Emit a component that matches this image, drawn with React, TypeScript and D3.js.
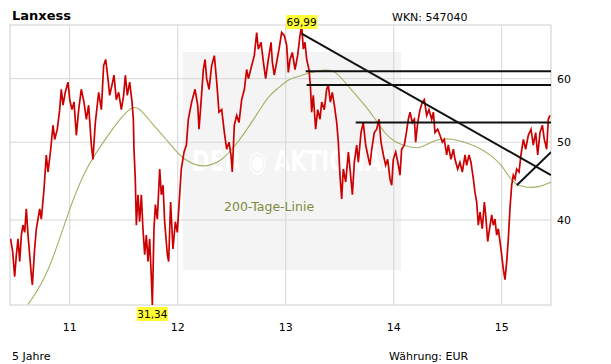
import React from "react";
import * as d3 from "d3";

// ---- data (decimal year, EUR) ----
const priceT = [2010.453,2010.472,2010.490,2010.506,2010.521,2010.537,2010.552,2010.567,2010.583,2010.598,2010.614,2010.629,2010.645,2010.654,2010.675,2010.691,2010.706,2010.722,2010.737,2010.762,2010.783,2010.799,2010.824,2010.845,2010.861,2010.885,2010.907,2010.922,2010.938,2010.959,2010.984,2011.000,2011.021,2011.040,2011.061,2011.083,2011.107,2011.132,2011.154,2011.175,2011.200,2011.215,2011.237,2011.255,2011.268,2011.293,2011.314,2011.333,2011.354,2011.370,2011.391,2011.410,2011.431,2011.453,2011.478,2011.499,2011.515,2011.533,2011.555,2011.577,2011.589,2011.595,2011.607,2011.617,2011.632,2011.647,2011.663,2011.678,2011.694,2011.709,2011.725,2011.740,2011.756,2011.765,2011.780,2011.793,2011.811,2011.833,2011.848,2011.864,2011.879,2011.904,2011.916,2011.934,2011.956,2011.978,2011.996,2012.018,2012.033,2012.058,2012.080,2012.098,2012.129,2012.160,2012.185,2012.197,2012.216,2012.237,2012.253,2012.268,2012.290,2012.314,2012.339,2012.361,2012.382,2012.407,2012.432,2012.453,2012.475,2012.493,2012.505,2012.524,2012.546,2012.567,2012.592,2012.617,2012.638,2012.654,2012.685,2012.709,2012.731,2012.746,2012.771,2012.793,2012.814,2012.839,2012.864,2012.876,2012.894,2012.916,2012.938,2012.962,2012.987,2013.009,2013.024,2013.040,2013.061,2013.086,2013.110,2013.132,2013.147,2013.163,2013.178,2013.194,2013.215,2013.228,2013.240,2013.255,2013.277,2013.296,2013.317,2013.333,2013.357,2013.379,2013.394,2013.413,2013.431,2013.450,2013.472,2013.487,2013.502,2013.518,2013.533,2013.555,2013.580,2013.598,2013.617,2013.635,2013.657,2013.672,2013.697,2013.718,2013.740,2013.759,2013.780,2013.796,2013.820,2013.842,2013.864,2013.882,2013.904,2013.925,2013.944,2013.965,2013.981,2013.996,2014.018,2014.043,2014.058,2014.073,2014.098,2014.117,2014.135,2014.151,2014.172,2014.191,2014.203,2014.222,2014.243,2014.265,2014.283,2014.305,2014.326,2014.351,2014.367,2014.382,2014.407,2014.428,2014.450,2014.468,2014.490,2014.505,2014.530,2014.552,2014.567,2014.592,2014.613,2014.635,2014.660,2014.675,2014.697,2014.715,2014.737,2014.752,2014.768,2014.783,2014.799,2014.820,2014.839,2014.851,2014.870,2014.882,2014.907,2014.922,2014.937,2014.953,2014.968,2014.984,2014.999,2015.015,2015.030,2015.046,2015.061,2015.076,2015.092,2015.107,2015.123,2015.138,2015.160,2015.178,2015.200,2015.221,2015.246,2015.271,2015.292,2015.314,2015.333,2015.354,2015.376,2015.394,2015.416,2015.431,2015.447];
const priceV = [37.9,36.5,34.0,36.2,37.9,35.5,38.3,39.4,38.6,41.3,38.3,36.2,34.1,33.2,36.8,39.0,40.1,41.3,40.1,43.7,48.2,45.9,49.0,52.5,50.4,51.9,54.9,58.2,55.6,57.7,59.4,56.5,54.9,56.1,51.0,54.9,58.2,56.1,53.4,55.6,49.6,47.6,52.9,55.6,57.7,54.9,62.3,63.4,60.0,57.2,58.9,60.6,56.5,57.7,54.9,57.2,60.6,57.2,59.4,56.1,53.4,49.0,45.0,39.4,43.0,39.8,43.0,39.0,36.2,38.3,35.5,37.9,33.8,31.34,39.0,41.8,40.1,46.3,43.0,44.2,39.8,36.2,35.5,42.1,36.8,39.8,38.6,43.0,46.3,48.6,49.6,53.4,56.1,58.2,55.6,51.9,56.1,61.6,63.4,60.0,58.2,62.3,64.1,59.4,54.5,54.9,51.4,49.0,50.0,48.2,45.9,52.5,54.0,52.9,56.5,58.2,61.6,60.0,62.3,64.1,68.5,65.3,66.6,62.9,60.0,63.4,66.6,62.9,60.6,62.9,65.3,68.5,67.9,66.0,61.1,63.4,64.7,61.6,64.1,67.9,69.99,65.3,66.6,63.4,61.6,58.9,54.5,57.2,51.9,54.9,53.4,56.1,54.9,58.2,58.9,56.1,57.7,55.6,52.9,50.0,45.5,42.5,46.3,44.6,48.6,45.9,43.0,47.2,49.6,47.2,51.4,52.9,49.6,48.2,46.8,49.0,51.4,51.9,53.4,50.0,48.2,46.8,47.6,45.0,44.2,47.6,48.6,46.8,45.5,49.0,49.6,51.4,53.4,54.5,52.9,53.4,50.0,52.9,54.9,56.1,56.5,54.0,54.9,53.4,54.5,51.4,51.9,51.0,50.0,50.4,48.2,49.6,47.6,49.0,47.6,46.3,47.2,45.9,48.2,46.8,48.2,47.2,45.0,43.3,42.1,39.4,40.9,39.0,42.1,40.6,37.6,38.6,40.6,39.4,40.1,38.3,39.0,37.6,36.2,34.7,33.7,35.5,37.9,41.3,44.2,45.5,45.0,46.3,45.9,48.2,50.4,49.0,51.0,51.9,49.6,51.4,48.2,51.4,52.5,50.4,49.0,53.4,54.0];

const maT = [2010.614,2010.799,2011.000,2011.139,2011.231,2011.354,2011.475,2011.586,2011.660,2011.753,2011.879,2011.972,2012.067,2012.190,2012.315,2012.407,2012.500,2012.623,2012.746,2012.839,2012.931,2013.024,2013.116,2013.240,2013.364,2013.456,2013.549,2013.641,2013.734,2013.827,2013.919,2014.012,2014.104,2014.228,2014.320,2014.413,2014.537,2014.660,2014.783,2014.907,2015.000,2015.061,2015.123,2015.216,2015.339,2015.456];
const maV = [31.4,34.1,41.5,46.0,48.2,51.0,53.7,55.6,54.9,52.9,50.7,48.9,47.5,46.6,46.8,47.5,48.9,51.4,54.5,57.1,58.4,59.9,60.4,61.1,61.6,61.4,59.4,57.4,55.6,53.5,51.2,50.0,49.5,49.0,49.8,50.5,50.5,50.0,49.3,48.1,46.8,45.4,44.3,43.9,43.9,44.6];

// trend lines: [t1, v1, t2, v2]
const trendDown = [2013.147, 68.3, 2015.456, 45.5];
const trendUp = [2015.139, 44.2, 2015.456, 48.6];
const levelValues = [61.3, 58.9, 52.9];
const levelStarts = [2013.185, 2013.194, 2013.648];

// watermark panel span (decimal years)
const panelSpan = [2012.049, 2014.067];

const xTickYears = [2011, 2012, 2013, 2014, 2015];
const xTickLabels = ["11", "12", "13", "14", "15"];
const yTicks = [40, 50, 60];

const maxPoint = { t: 2013.147, v: 69.99, label: "69,99" };
const minPoint = { t: 2011.765, v: 31.34, label: "31,34" };

const title = "Lanxess";
const wkn = "WKN: 547040";
const period = "5 Jahre";
const currency = "Währung: EUR";
const maLabel = "200-Tage-Linie";

export default function App() {
  const W = 611, H = 364;
  const L = 10, R = 551, T = 25, B = 305;
  const x = d3.scaleLinear().domain([2010.447, 2015.456]).range([L, R]);
  const y = d3.scaleLog().domain([31.34, 69.99]).range([B, T]);

  const priceLine = d3.line<number>()
    .x((_, i) => x(priceT[i]))
    .y((d) => y(d));
  const maLine = d3.line<number>()
    .x((_, i) => x(maT[i]))
    .y((d) => y(d))
    .curve(d3.curveBasis);

  const font = "'DejaVu Sans', Verdana, sans-serif";
  const grid = "#d6d6d6";
  const px0 = x(panelSpan[0]);
  const px1 = x(panelSpan[1]);

  return (
    <svg width={W} height={H} style={{ position: "absolute", left: 0, top: 0, background: "#fff" }}
      fontFamily={font}>
      <defs>
        <clipPath id="plot"><rect x={L} y={T} width={R - L} height={B - T} /></clipPath>
      </defs>
      <rect x={0} y={0} width={W} height={H} fill="#fff" />
      {/* watermark panel */}
      <rect x={px0} y={52} width={px1 - px0} height={218} fill="#f4f4f4" />
      <text x={px0 + 9} y={171} fontSize={29} fontWeight="bold" fill="#ffffff"
        textLength={px1 - px0 - 12} lengthAdjust="spacingAndGlyphs">DER ◉ AKTIONÄR</text>
      {/* grid */}
      {xTickYears.map((t) => (
        <line key={"gx" + t} x1={x(t)} x2={x(t)} y1={T} y2={B} stroke={grid} strokeWidth={1} />
      ))}
      {yTicks.map((v) => (
        <line key={"gy" + v} x1={L} x2={R} y1={y(v)} y2={y(v)} stroke={grid} strokeWidth={1} />
      ))}
      <rect x={L} y={T} width={R - L} height={B - T} fill="none" stroke="#cfcfcf" strokeWidth={1} />
      <text x={224} y={211} fontSize={12.5} fill="#7d8b3c">{maLabel}</text>
      <g clipPath="url(#plot)">
        <path d={maLine(maV) || ""} fill="none" stroke="#a3b063" strokeWidth={1.1} />
        <path d={priceLine(priceV) || ""} fill="none" stroke="#cc0000" strokeWidth={1.7} strokeLinejoin="miter" />
        {levelValues.map((v, i) => (
          <line key={"lv" + i} x1={x(levelStarts[i])} x2={R} y1={y(v)} y2={y(v)} stroke="#111" strokeWidth={2} />
        ))}
        <line x1={x(trendDown[0])} y1={y(trendDown[1])} x2={x(trendDown[2])} y2={y(trendDown[3])} stroke="#111" strokeWidth={2} />
        <line x1={x(trendUp[0])} y1={y(trendUp[1])} x2={x(trendUp[2])} y2={y(trendUp[3])} stroke="#111" strokeWidth={2} />
      </g>
      {/* max/min labels */}
      <line x1={x(maxPoint.t)} x2={x(maxPoint.t)} y1={29} y2={y(maxPoint.v)} stroke="#cc0000" strokeWidth={1} />
      <rect x={x(maxPoint.t) - 15.5} y={15} width={31} height={14} fill="#ffff33" />
      <text x={x(maxPoint.t)} y={26} fontSize={10.5} textAnchor="middle" fill="#000">{maxPoint.label}</text>
      <rect x={x(minPoint.t) - 15.5} y={307} width={31} height={14} fill="#ffff33" />
      <text x={x(minPoint.t)} y={318} fontSize={10.5} textAnchor="middle" fill="#000">{minPoint.label}</text>
      {/* axes labels */}
      {xTickYears.map((t, i) => (
        <text key={"xl" + t} x={x(t)} y={331} fontSize={11} textAnchor="middle" fill="#000">{xTickLabels[i]}</text>
      ))}
      {yTicks.map((v) => (
        <text key={"yl" + v} x={557} y={y(v) + 4} fontSize={11} fill="#000">{v}</text>
      ))}
      <text x={12} y={20} fontSize={13} fontWeight="bold" fill="#000">{title}</text>
      <text x={392} y={21} fontSize={11} fill="#000">{wkn}</text>
      <text x={12} y={360} fontSize={11} fill="#000">{period}</text>
      <text x={389} y={360} fontSize={11} fill="#000">{currency}</text>
    </svg>
  );
}
